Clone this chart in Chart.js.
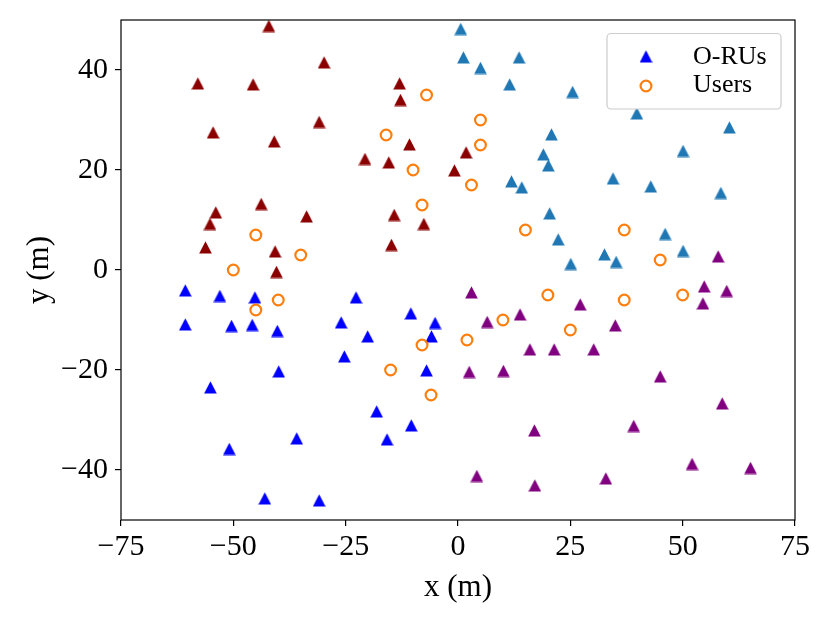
<!DOCTYPE html>
<html>
<head>
<meta charset="utf-8">
<script src="https://cdn.jsdelivr.net/npm/chart.js@4/dist/chart.umd.min.js"></script>
<style>
  html, body { margin: 0; padding: 0; background: #fff; }
  canvas { display: block; }
</style>
</head>
<body>
<canvas id="chart" width="830" height="623"></canvas>
<script>
// --- data (metres) ---
const xTicks = [-75, -50, -25, 0, 25, 50, 75];
const yTicks = [-40, -20, 0, 20, 40];

const usersX = [-7, -16, -10, -8, -45, -35, -50, 5, 5, 3, 15, 37, 45, -40, -45, -8, -15, -6, 2, 10, 20, 25, 37, 50];
const usersY = [35, 27, 20, 13, 7, 3, 0, 30, 25, 17, 8, 8, 2, -6, -8, -15, -20, -25, -14, -10, -5, -12, -6, -5];

// O-RU clusters (one colour each)
const oruBlueX = [-60.7, -53, -45.2, -22.7, -60.7, -50.4, -45.8, -40.2, -26, -10.5, -5.1, -5.9, -20.1, -25.3, -39.9, -7, -55.1, -18.1, -10.4, -35.9, -15.8, -50.9, -43, -30.9];
const oruBlueY = [-4.1, -5.2, -5.5, -5.5, -10.9, -11.2, -11, -12.2, -10.5, -8.7, -10.6, -13.3, -13.3, -17.3, -20.3, -20.1, -23.5, -28.3, -31.1, -33.7, -33.9, -35.8, -45.7, -46.1];

const oruTealX = [0.6, 1.2, 13.6, 5, 11.5, 25.5, 39.8, 60.4, 20.8, 50.1, 19, 20.1, 34.5, 42.9, 58.5, 11.9, 14.2, 20.4, 46.1, 22.3, 50.1, 32.6, 35.2, 25.1];
const oruTealY = [48.2, 42.5, 42.5, 40.4, 37.1, 35.6, 31.3, 28.5, 27.1, 23.8, 23.1, 20.9, 18.3, 16.7, 15.4, 17.7, 16.5, 11.3, 7.2, 6.1, 3.8, 3.1, 1.6, 1.2];

const oruRedX = [-42.1, -29.8, -57.9, -45.6, -13, -12.8, -30.9, -54.5, -40.9, -10.8, -20.7, -15.4, -0.8, 1.8, -43.8, -53.9, -33.7, -14.2, -7.6, -55.2, -56.2, -40.7, -14.8, -40.4];
const oruRedY = [48.8, 41.5, 37.3, 37.1, 37.3, 34, 29.6, 27.5, 25.7, 25.1, 22.2, 21.5, 19.9, 23.5, 13.2, 11.5, 10.7, 11, 9.2, 9.2, 4.5, 3.7, 5, -0.4];

const oruPurpleX = [3, 57.9, 54.8, 59.8, 54.5, 27.2, 13.8, 6.5, 35, 16, 21.4, 30.2, 2.5, 10.1, 45, 58.8, 39.1, 17, 52.1, 65.1, 4.2, 32.9, 17.1];
const oruPurpleY = [-4.5, 2.7, -3.3, -4.2, -6.7, -6.9, -8.9, -10.4, -11.1, -15.9, -15.9, -15.9, -20.4, -20.2, -21.3, -26.7, -31.2, -32.1, -38.8, -39.6, -41.2, -41.7, -43.1];

const FONT = "'Liberation Serif', 'Times New Roman', serif";
const ORANGE = '#ff7f0e';

function toPoints(xs, ys) {
    return xs.map((x, i) => ({ x: x, y: ys[i] }));
}

// matplotlib-like '^' marker: equal width and height, box centred on the point
function triangleMarker(color) {
    const c = document.createElement('canvas');
    c.width = 13; c.height = 13;
    const g = c.getContext('2d');
    g.fillStyle = color;
    g.beginPath();
    g.moveTo(6.5, 0.3);
    g.lineTo(0.2, 12.6);
    g.lineTo(12.8, 12.6);
    g.closePath();
    g.fill();
    return c;
}

function oruDataset(label, xs, ys, color) {
    return {
        label: label,
        data: toPoints(xs, ys),
        pointStyle: triangleMarker(color),
        pointRadius: 6,
        backgroundColor: color,
        borderColor: color
    };
}

const minusSign = v => String(v).replace('-', '\u2212');

// frame round the plot + legend box in the upper right corner
const framePlugin = {
    id: 'frame',
    afterDraw(chart) {
        const { ctx, chartArea: a } = chart;
        ctx.save();
        ctx.strokeStyle = '#000';
        ctx.lineWidth = 1.2;
        ctx.strokeRect(a.left, a.top, a.right - a.left, a.bottom - a.top);

        // legend
        ctx.fillStyle = 'rgba(255,255,255,0.85)';
        ctx.strokeStyle = '#cccccc';
        ctx.lineWidth = 1.2;
        ctx.beginPath();
        ctx.roundRect(607, 33.5, 174, 75.5, 4);
        ctx.fill();
        ctx.stroke();

        ctx.drawImage(triangleMarker('#0000ff'), 639.5, 50);
        ctx.beginPath();
        ctx.arc(646, 86, 5.4, 0, Math.PI * 2);
        ctx.strokeStyle = ORANGE;
        ctx.lineWidth = 2.2;
        ctx.stroke();

        ctx.fillStyle = '#000';
        ctx.font = `26px ${FONT}`;
        ctx.textAlign = 'left';
        ctx.textBaseline = 'alphabetic';
        ctx.fillText('O-RUs', 693, 63.5);
        ctx.fillText('Users', 693, 92);
        ctx.restore();
    }
};

new Chart(document.getElementById('chart'), {
    type: 'scatter',
    data: {
        datasets: [
            {
                label: 'Users',
                data: toPoints(usersX, usersY),
                pointStyle: 'circle',
                pointRadius: 5.4,
                borderWidth: 2.2,
                borderColor: ORANGE,
                backgroundColor: 'rgba(0,0,0,0)'
            },
            oruDataset('O-RUs', oruBlueX, oruBlueY, '#0000ff'),
            oruDataset('', oruTealX, oruTealY, '#1f77b4'),
            oruDataset('', oruRedX, oruRedY, '#8b0000'),
            oruDataset('', oruPurpleX, oruPurpleY, '#800080')
        ]
    },
    options: {
        responsive: false,
        animation: false,
        layout: { padding: { top: 20, right: 35, left: 0, bottom: 0 } },
        plugins: { legend: { display: false }, tooltip: { enabled: false } },
        scales: {
            x: {
                type: 'linear',
                min: -75,
                max: 75,
                afterBuildTicks: s => { s.ticks = xTicks.map(v => ({ value: v })); },
                afterFit: s => { s.height = 103; s.paddingLeft = 0; s.paddingRight = 0; },
                grid: { display: true, drawOnChartArea: false, drawTicks: true, tickLength: 6, color: '#000', lineWidth: 1.2 },
                border: { display: false },
                ticks: { color: '#000', autoSkip: false, maxRotation: 0, padding: 3, font: { family: FONT, size: 30 }, callback: minusSign },
                title: { display: true, text: 'x (m)', color: '#000', font: { family: FONT, size: 31 }, padding: { top: 0, bottom: 17 } }
            },
            y: {
                type: 'linear',
                min: -50,
                max: 50,
                afterBuildTicks: s => { s.ticks = yTicks.map(v => ({ value: v })); },
                afterFit: s => { s.width = 121; s.paddingTop = 0; s.paddingBottom = 0; },
                grid: { display: true, drawOnChartArea: false, drawTicks: true, tickLength: 6, color: '#000', lineWidth: 1.2 },
                border: { display: false },
                ticks: { color: '#000', autoSkip: false, padding: 7, font: { family: FONT, size: 30 }, callback: minusSign },
                title: { display: true, text: 'y (m)', color: '#000', font: { family: FONT, size: 31 }, padding: { top: 21, bottom: 0 } }
            }
        }
    },
    plugins: [framePlugin]
});
</script>
</body>
</html>
